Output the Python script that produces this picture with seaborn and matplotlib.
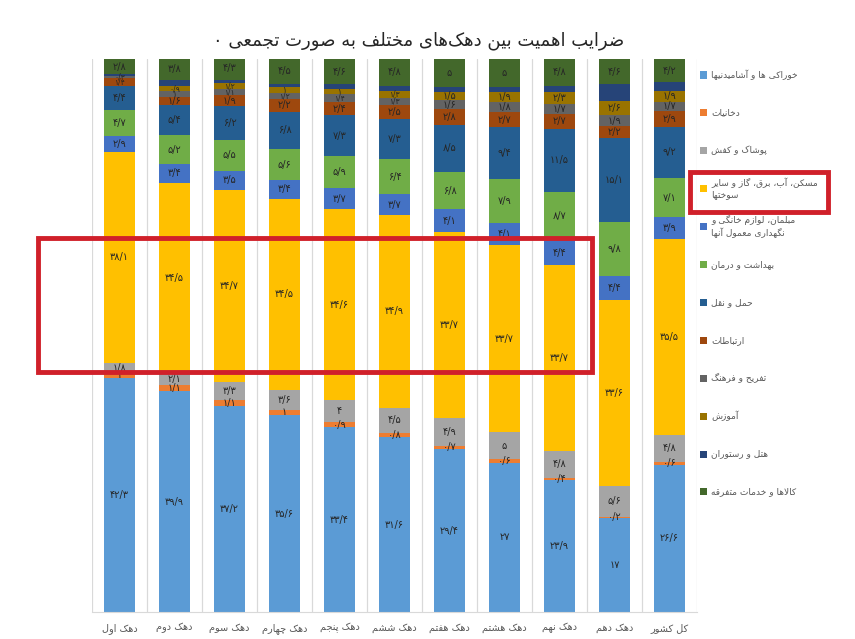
"""
ضرایب اهمیت دهک‌ها - نمودار ستونی انباشته
"""
import numpy as np
import pandas as pd
import matplotlib
matplotlib.use("Agg")
import matplotlib.pyplot as plt
from matplotlib.patches import Rectangle
import seaborn as sns

# --- data (percent, bottom to top of each bar) ---
deciles = ["دهک اول", "دهک دوم", "دهک سوم", "دهک چهارم", "دهک پنجم", "دهک ششم",
           "دهک هفتم", "دهک هشتم", "دهک نهم", "دهک دهم", "کل کشور"]

groups = ["خوراکی ها و آشامیدنیها", "دخانیات", "پوشاک و کفش",
          "مسکن، آب، برق، گاز و سایر\nسوختها",
          "مبلمان، لوازم خانگی و\nنگهداری معمول آنها",
          "بهداشت و درمان", "حمل و نقل", "ارتباطات", "تفریح و فرهنگ",
          "آموزش", "هتل و رستوران", "کالاها و خدمات متفرقه"]

food = [42.3, 39.9, 37.2, 35.6, 33.4, 31.6, 29.4, 27.0, 23.9, 17.0, 26.6]
tobacco = [1.0, 1.1, 1.1, 1.0, 0.9, 0.8, 0.7, 0.6, 0.4, 0.2, 0.6]
clothing = [1.8, 2.1, 3.3, 3.6, 4.0, 4.5, 4.9, 5.0, 4.8, 5.6, 4.8]
housing = [38.1, 34.5, 34.7, 34.5, 34.6, 34.9, 33.7, 33.7, 33.7, 33.6, 35.5]
furniture = [2.9, 3.4, 3.5, 3.4, 3.7, 3.7, 4.1, 4.1, 4.4, 4.4, 3.9]
health = [4.7, 5.2, 5.5, 5.6, 5.9, 6.4, 6.8, 7.9, 8.7, 9.8, 7.1]
transport = [4.4, 5.4, 6.2, 6.8, 7.3, 7.3, 8.5, 9.4, 11.5, 15.1, 9.2]
communication = [1.4, 1.6, 1.9, 2.2, 2.4, 2.5, 2.8, 2.7, 2.7, 2.2, 2.9]
recreation = [0.3, 1.0, 1.1, 1.2, 1.4, 1.3, 1.6, 1.8, 1.7, 1.9, 1.7]
education = [0.1, 0.9, 1.2, 1.0, 1.0, 1.3, 1.5, 1.9, 2.3, 2.6, 1.9]
hotel = [0.2, 1.1, 0.5, 0.6, 0.8, 0.9, 1.0, 0.9, 1.1, 3.0, 1.6]
misc = [2.8, 3.8, 4.3, 4.5, 4.6, 4.8, 5.0, 5.0, 4.8, 4.6, 4.2]

series = [food, tobacco, clothing, housing, furniture, health, transport,
          communication, recreation, education, hotel, misc]
colors = ["#5B9BD5", "#ED7D31", "#A5A5A5", "#FFC000", "#4472C4", "#70AD47",
          "#255E91", "#9E480E", "#636363", "#997300", "#264478", "#43682B"]
labelled = [True] * len(series)
labelled[10] = False  # هتل و رستوران بدون برچسب

title = "ضرایب اهمیت بین دهک\u200cهای مختلف به صورت تجمعی ۰"

# --- minimal Persian shaping (matplotlib has no bidi / joining) ---
FORMS = {
    "ا": ("\uFE8D", "\uFE8E", None, None), "آ": ("\uFE81", "\uFE82", None, None),
    "ب": ("\uFE8F", "\uFE90", "\uFE91", "\uFE92"), "پ": ("\uFB56", "\uFB57", "\uFB58", "\uFB59"),
    "ت": ("\uFE95", "\uFE96", "\uFE97", "\uFE98"), "ث": ("\uFE99", "\uFE9A", "\uFE9B", "\uFE9C"),
    "ج": ("\uFE9D", "\uFE9E", "\uFE9F", "\uFEA0"), "چ": ("\uFB7A", "\uFB7B", "\uFB7C", "\uFB7D"),
    "ح": ("\uFEA1", "\uFEA2", "\uFEA3", "\uFEA4"), "خ": ("\uFEA5", "\uFEA6", "\uFEA7", "\uFEA8"),
    "د": ("\uFEA9", "\uFEAA", None, None), "ذ": ("\uFEAB", "\uFEAC", None, None),
    "ر": ("\uFEAD", "\uFEAE", None, None), "ز": ("\uFEAF", "\uFEB0", None, None),
    "ژ": ("\uFB8A", "\uFB8B", None, None),
    "س": ("\uFEB1", "\uFEB2", "\uFEB3", "\uFEB4"), "ش": ("\uFEB5", "\uFEB6", "\uFEB7", "\uFEB8"),
    "ص": ("\uFEB9", "\uFEBA", "\uFEBB", "\uFEBC"), "ض": ("\uFEBD", "\uFEBE", "\uFEBF", "\uFEC0"),
    "ط": ("\uFEC1", "\uFEC2", "\uFEC3", "\uFEC4"), "ظ": ("\uFEC5", "\uFEC6", "\uFEC7", "\uFEC8"),
    "ع": ("\uFEC9", "\uFECA", "\uFECB", "\uFECC"), "غ": ("\uFECD", "\uFECE", "\uFECF", "\uFED0"),
    "ف": ("\uFED1", "\uFED2", "\uFED3", "\uFED4"), "ق": ("\uFED5", "\uFED6", "\uFED7", "\uFED8"),
    "ک": ("\uFB8E", "\uFB8F", "\uFB90", "\uFB91"), "گ": ("\uFB92", "\uFB93", "\uFB94", "\uFB95"),
    "ل": ("\uFEDD", "\uFEDE", "\uFEDF", "\uFEE0"), "م": ("\uFEE1", "\uFEE2", "\uFEE3", "\uFEE4"),
    "ن": ("\uFEE5", "\uFEE6", "\uFEE7", "\uFEE8"), "ه": ("\uFEE9", "\uFEEA", "\uFEEB", "\uFEEC"),
    "و": ("\uFEED", "\uFEEE", None, None), "ی": ("\uFBFC", "\uFBFD", "\uFBFE", "\uFBFF"),
}
LAM_ALEF = {"ا": ("\uFEFB", "\uFEFC"), "آ": ("\uFEF5", "\uFEF6")}


def _joins_next(c):
    return c in FORMS and FORMS[c][2] is not None


def shape_line(text):
    res = []
    i = 0
    while i < len(text):
        c = text[i]
        if c not in FORMS:
            res.append(c)
            i += 1
            continue
        jp = i > 0 and _joins_next(text[i - 1])
        if c == "ل" and i + 1 < len(text) and text[i + 1] in LAM_ALEF:
            iso, fin = LAM_ALEF[text[i + 1]]
            res.append(fin if jp else iso)
            i += 2
            continue
        jn = _joins_next(c) and i + 1 < len(text) and text[i + 1] in FORMS
        iso, fin, ini, med = FORMS[c]
        res.append(med if jp and jn else fin if jp else ini if jn else iso)
        i += 1
    return "".join(res).replace("\u200c", "")[::-1]


def fa(text):
    return "\n".join(shape_line(line) for line in text.split("\n"))


def fa_num(v):
    return f"{v:g}".translate(str.maketrans("0123456789.", "۰۱۲۳۴۵۶۷۸۹/"))


# --- plot ---
sns.set_style("white")
plt.rcParams["font.family"] = ["DejaVu Sans"]

W, H = 855, 639
x_labels = [fa(d) for d in deciles]
values = np.array(series)
tops = values.cumsum(axis=0)

fig = plt.figure(figsize=(W / 100, H / 100), dpi=100)
ax = fig.add_axes([0.1076, 0.0423, 0.7076, 0.8654])

# draw cumulative totals from top layer down, each covering the one above's base
for k in range(len(series) - 1, -1, -1):
    df = pd.DataFrame({"decile": x_labels, "top": tops[k]})
    sns.barplot(data=df, x="decile", y="top", color=colors[k], saturation=1,
                width=0.56, errorbar=None, linewidth=0, ax=ax)

for k, vals in enumerate(series):
    if not labelled[k]:
        continue
    for i, v in enumerate(vals):
        if v < 0.15:
            continue
        size = 7 if v >= 1.5 or k < 7 else 5.5
        ax.text(i, tops[k][i] - v / 2, fa_num(v), ha="center", va="center",
                fontsize=size, color="#262626")

ax.set_ylim(0, 100)
ax.set_xlim(-0.5, len(deciles) - 0.5)
ax.set_xlabel("")
ax.set_ylabel("")
ax.set_yticks([])
ax.set_xticks(np.arange(-0.5, len(deciles), 1), minor=True)
ax.grid(which="minor", axis="x", color="#D9D9D9", linewidth=0.9)
ax.set_axisbelow(True)
ax.tick_params(axis="x", which="both", length=0, labelsize=7, colors="#595959", pad=8)
for side in ["top", "left", "right"]:
    ax.spines[side].set_visible(False)
ax.spines["bottom"].set_color("#D9D9D9")

# legend, evenly spaced like the Excel original (square left of the text)
for k, (g, c) in enumerate(zip(groups, colors)):
    y = 1 - (75 + 37.9 * k) / H
    fig.add_artist(Rectangle((700 / W, y - 3.5 / H), 7 / W, 7 / H,
                             transform=fig.transFigure, fc=c, ec="none"))
    fig.text(711 / W, y, fa(g), ha="left", va="center", fontsize=6.5,
             color="#595959", linespacing=1.3)

fig.text(0.49, 0.937, fa(title), ha="center", va="center", fontsize=13, color="#262626")

# red highlight boxes
fig.add_artist(Rectangle((38 / W, 1 - 372 / H), 554 / W, 134 / H,
                         transform=fig.transFigure, fill=False, ec="#D0202A", lw=3.5))
fig.add_artist(Rectangle((690 / W, 1 - 212 / H), 138 / W, 40 / H,
                         transform=fig.transFigure, fill=False, ec="#D0202A", lw=3.5))

fig.savefig("out.png", dpi=100)
